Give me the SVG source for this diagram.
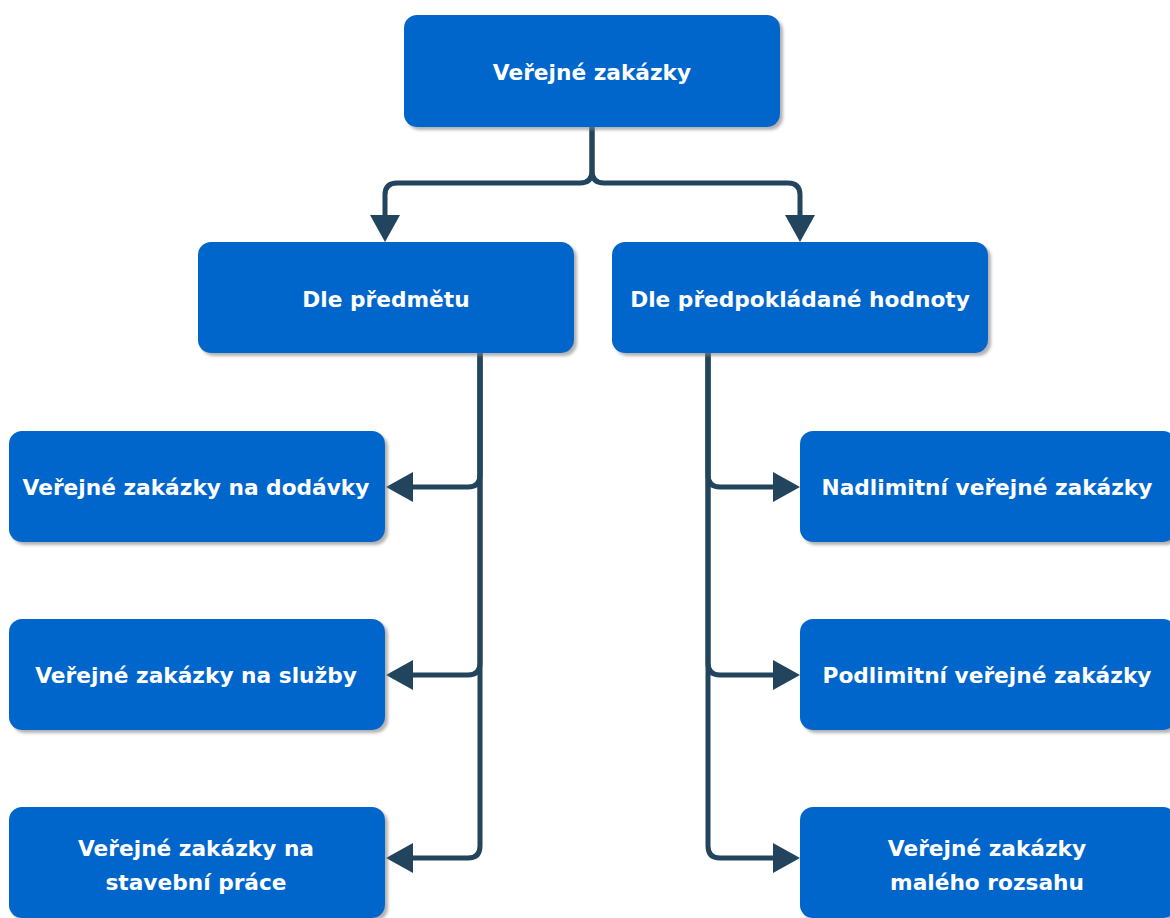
<svg xmlns="http://www.w3.org/2000/svg" width="1170" height="918" viewBox="0 0 1170 918">
  <style>
    .box { fill: #0066CC; filter: url(#shadow); }
    .lbl { fill: #FFFFFF; font-family: "DejaVu Sans", Verdana, sans-serif; font-weight: bold; font-size: 21.7px; text-anchor: middle; dominant-baseline: central; }
    .edge { fill: none; stroke: #23445D; stroke-width: 5; stroke-linejoin: round; marker-end: url(#arrow); }
  </style>
  <defs>
    <filter id="shadow" x="-10%" y="-10%" width="120%" height="130%">
      <feDropShadow dx="3" dy="3" stdDeviation="1.5" flood-color="#808080" flood-opacity="0.6"/>
    </filter>
    <marker id="arrow" markerUnits="userSpaceOnUse" markerWidth="28" markerHeight="30" refX="0" refY="15" orient="auto">
      <path d="M0,0 L27,15 L0,30 z" fill="#23445D"/>
    </marker>
  </defs>
  <rect width="1170" height="918" fill="#FFFFFF"/>

  <g id="connectors">
    <!-- root to the two groupings -->
    <path class="edge" d="M592,127 V171 Q592,183 580,183 H397 Q385,183 385,195 V215"/>
    <path class="edge" d="M592,127 V171 Q592,183 604,183 H788 Q800,183 800,195 V215"/>
    <!-- by subject -->
    <path class="edge" d="M480,353 V475 Q480,487 468,487 H413"/>
    <path class="edge" d="M480,353 V663 Q480,675 468,675 H413"/>
    <path class="edge" d="M480,353 V846 Q480,858 468,858 H413"/>
    <!-- by estimated value -->
    <path class="edge" d="M708,353 V475 Q708,487 720,487 H773"/>
    <path class="edge" d="M708,353 V663 Q708,675 720,675 H773"/>
    <path class="edge" d="M708,353 V846 Q708,858 720,858 H773"/>
  </g>

  <g id="root">
    <rect class="box" x="404" y="15" width="376" height="112" rx="13"/>
    <text class="lbl" x="592" y="72">Veřejné zakázky</text>
  </g>

  <g id="by-subject">
    <rect class="box" x="198" y="242" width="376" height="111" rx="13"/>
    <text class="lbl" x="386" y="299">Dle předmětu</text>
  </g>
  <g id="by-value">
    <rect class="box" x="612" y="242" width="376" height="111" rx="13"/>
    <text class="lbl" x="800" y="299">Dle předpokládané hodnoty</text>
  </g>

  <g id="supplies">
    <rect class="box" x="9" y="431" width="376" height="111" rx="13"/>
    <text class="lbl" x="196" y="487">Veřejné zakázky na dodávky</text>
  </g>
  <g id="services">
    <rect class="box" x="9" y="619" width="376" height="111" rx="13"/>
    <text class="lbl" x="196" y="675">Veřejné zakázky na služby</text>
  </g>
  <g id="works">
    <rect class="box" x="9" y="807" width="376" height="111" rx="13"/>
    <text class="lbl" x="196" y="848">Veřejné zakázky na</text>
    <text class="lbl" x="196" y="882">stavební práce</text>
  </g>

  <g id="above-threshold">
    <rect class="box" x="800" y="431" width="376" height="111" rx="13"/>
    <text class="lbl" x="987" y="487">Nadlimitní veřejné zakázky</text>
  </g>
  <g id="below-threshold">
    <rect class="box" x="800" y="619" width="376" height="111" rx="13"/>
    <text class="lbl" x="987" y="675">Podlimitní veřejné zakázky</text>
  </g>
  <g id="small-scale">
    <rect class="box" x="800" y="807" width="376" height="111" rx="13"/>
    <text class="lbl" x="987" y="848">Veřejné zakázky</text>
    <text class="lbl" x="987" y="882">malého rozsahu</text>
  </g>
</svg>
